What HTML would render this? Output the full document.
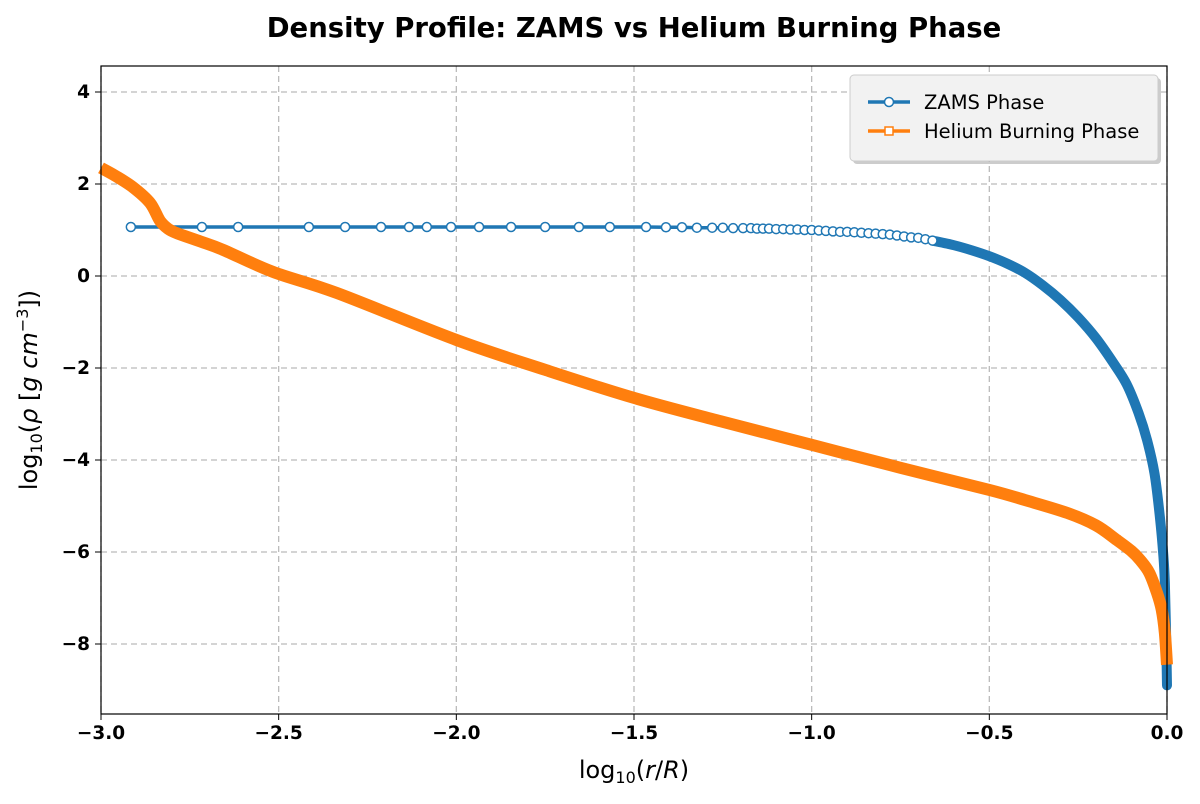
<!DOCTYPE html>
<html><head><meta charset="utf-8"><style>
body{margin:0;background:#fff;font-family:"DejaVu Sans","Liberation Sans",sans-serif}
</style></head><body>
<svg id="chart" width="1200" height="800" xmlns="http://www.w3.org/2000/svg" font-family="DejaVu Sans, Liberation Sans, sans-serif">
<text x="634" y="37" text-anchor="middle" font-size="27.5" font-weight="bold">Density Profile: ZAMS vs Helium Burning Phase</text>
<g id="grid"></g>
<g id="series"></g>
<rect x="101" y="66" width="1066" height="648" fill="none" stroke="#000" stroke-width="1.2"/>
<g id="ticks"></g>
<text x="634" y="778" text-anchor="middle" font-size="24">log<tspan font-size="16" dy="5">10</tspan><tspan dy="-5">(</tspan><tspan font-style="italic">r</tspan>/<tspan font-style="italic">R</tspan>)</text>
<text transform="translate(37,390) rotate(-90)" text-anchor="middle" font-size="24">log<tspan font-size="16" dy="5">10</tspan><tspan dy="-5">(</tspan><tspan font-style="italic">ρ</tspan> [<tspan font-style="italic">g cm</tspan><tspan font-size="16" dy="-9">−3</tspan><tspan dy="9">])</tspan></text>
<g>
<rect x="853" y="78" width="308" height="86" rx="4" fill="#999" opacity="0.5"/>
<rect x="850" y="75" width="308" height="86" rx="4" fill="#f2f2f2" stroke="#ccc"/>
<g>
<line x1="868" y1="102" x2="910" y2="102" stroke="#1f77b4" stroke-width="3.5"/>
<circle cx="889" cy="102" r="4.5" fill="#fff" stroke="#1f77b4" stroke-width="1.5"/>
<text x="924" y="109" font-size="19.5">ZAMS Phase</text></g>
<g>
<line x1="868" y1="131" x2="910" y2="131" stroke="#ff7f0e" stroke-width="3.5"/>
<rect x="885" y="127" width="8" height="8" fill="#fff" stroke="#ff7f0e" stroke-width="1.5"/>
<text x="924" y="138" font-size="19.5">Helium Burning Phase</text></g>
</g>
</svg>
<script>
const xTicks=[-3,-2.5,-2,-1.5,-1,-0.5,0];
const xTickLabels=["−3.0","−2.5","−2.0","−1.5","−1.0","−0.5","0.0"];
const yTicks=[4,2,0,-2,-4,-6,-8];
const yTickLabels=["4","2","0","−2","−4","−6","−8"];
const zamsX=[-2.916,-2.716,-2.614,-2.415,-2.313,-2.212,-2.133,-2.083,-2.015,-1.936,-1.846,-1.75,-1.655,-1.568,-1.466,-1.41,-1.365,-1.323,-1.28,-1.25,-1.221,-1.193,-1.171,-1.154,-1.137,-1.12,-1.1,-1.08,-1.06,-1.04,-1.02,-1.0,-0.98,-0.96,-0.94,-0.92,-0.9,-0.88,-0.86,-0.84,-0.82,-0.8,-0.78,-0.76,-0.74,-0.72,-0.7,-0.68,-0.66];
const zamsY=[1.065,1.065,1.065,1.065,1.065,1.065,1.065,1.065,1.065,1.065,1.065,1.065,1.065,1.065,1.065,1.06,1.06,1.05,1.05,1.05,1.04,1.04,1.04,1.03,1.03,1.03,1.02,1.02,1.01,1.01,1.0,1.0,0.99,0.98,0.97,0.96,0.96,0.95,0.94,0.93,0.92,0.91,0.9,0.88,0.86,0.84,0.83,0.8,0.77];
const zamsTailX=[-0.66,-0.6,-0.55,-0.5,-0.45,-0.4,-0.35,-0.3,-0.25,-0.2,-0.15,-0.113,-0.08,-0.056,-0.035,-0.02,-0.01,-0.006,-0.003,0];
const zamsTailY=[0.77,0.67,0.56,0.43,0.27,0.07,-0.2,-0.52,-0.9,-1.35,-1.9,-2.36,-2.98,-3.57,-4.3,-5.24,-6.1,-6.67,-7.6,-8.9];
const heX=[-3,-2.96,-2.91,-2.862,-2.834,-2.81,-2.786,-2.72,-2.657,-2.516,-2.336,-2.0,-1.75,-1.5,-1.25,-1.0,-0.75,-0.5,-0.4,-0.281,-0.2,-0.141,-0.1,-0.076,-0.05,-0.028,-0.015,-0.006,0];
const heY=[2.35,2.18,1.93,1.59,1.2,1.02,0.93,0.75,0.57,0.09,-0.37,-1.39,-2.04,-2.65,-3.17,-3.67,-4.17,-4.65,-4.87,-5.15,-5.42,-5.74,-5.98,-6.17,-6.45,-6.89,-7.25,-7.76,-8.45];
const X=v=>101+(v+3)*355.33, Y=v=>276-v*46;
const NS="http://www.w3.org/2000/svg";
function mk(tag,attrs,parent){const e=document.createElementNS(NS,tag);for(const k in attrs)e.setAttribute(k,attrs[k]);parent.appendChild(e);return e;}
function smooth(xs,ys){const p=xs.map((x,i)=>[X(x),Y(ys[i])]);let d='M'+p[0];for(let i=0;i<p.length-1;i++){const a=p[i-1]||p[i],b=p[i],c=p[i+1],e=p[i+2]||c;const c1=[b[0]+(c[0]-a[0])/6,b[1]+(c[1]-a[1])/6],c2=[c[0]-(e[0]-b[0])/6,c[1]-(e[1]-b[1])/6];d+=' C'+c1+' '+c2+' '+c;}return d;}
const grid=document.getElementById('grid'),ticks=document.getElementById('ticks'),ser=document.getElementById('series');
xTicks.forEach((t,i)=>{
 const g=mk('line',{x1:X(t),x2:X(t),y1:66,y2:714,stroke:'#bbb','stroke-dasharray':'6,4','stroke-width':1.3},grid);
 
 
 mk('line',{x1:X(t),x2:X(t),y1:714,y2:720,stroke:'#000'},ticks);
 const tx=mk('text',{x:X(t),y:739,'text-anchor':'middle','font-size':18.5,'font-weight':'bold'},ticks);
 tx.textContent=xTickLabels[i];
 
 
});
yTicks.forEach((t,i)=>{
 const g=mk('line',{x1:101,x2:1167,y1:Y(t),y2:Y(t),stroke:'#bbb','stroke-dasharray':'6,4','stroke-width':1.3},grid);
 
 
 mk('line',{x1:95,x2:101,y1:Y(t),y2:Y(t),stroke:'#000'},ticks);
 const tx=mk('text',{x:90,y:Y(t)+6,'text-anchor':'end','font-size':18.5,'font-weight':'bold'},ticks);
 tx.textContent=yTickLabels[i];
 
 
});
const pts=(xs,ys)=>xs.map((x,i)=>X(x)+','+Y(ys[i])).join(' ');
const zl=mk('polyline',{points:pts(zamsX,zamsY),fill:'none',stroke:'#1f77b4','stroke-width':3.5},ser);


const zb=mk('path',{d:smooth(zamsTailX,zamsTailY),fill:'none',stroke:'#1f77b4','stroke-width':10,'stroke-linejoin':'round','stroke-linecap':'round'},ser);


zamsX.forEach((x,i)=>{
 const c=mk('circle',{cx:X(x),cy:Y(zamsY[i]),r:4.5,fill:'#fff',stroke:'#1f77b4','stroke-width':1.5},ser);
 
 
});
const hl=mk('path',{d:smooth(heX,heY),fill:'none',stroke:'#ff7f0e','stroke-width':12,'stroke-linejoin':'round'},ser);


</script>
</body></html>
